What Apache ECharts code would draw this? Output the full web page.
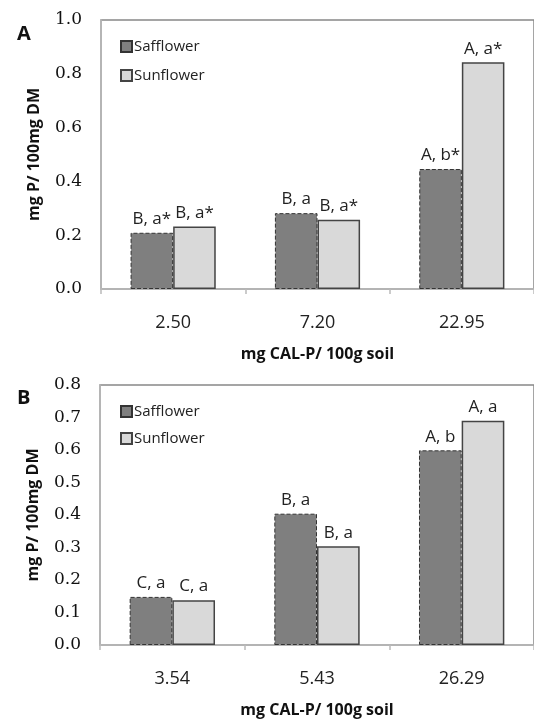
<!DOCTYPE html>
<html>
<head>
<meta charset="utf-8">
<script src="https://cdn.jsdelivr.net/npm/echarts@6/dist/echarts.min.js"></script>
<style>
  html, body { margin: 0; padding: 0; background: #fff; }
  #chart { width: 534px; height: 719px; }
</style>
</head>
<body>
<div id="chart"></div>
<script>
// Panel A
const catsA = ['2.50', '7.20', '22.95']
const safflowerA = [0.209, 0.282, 0.446]
const sunflowerA = [0.232, 0.257, 0.843]
const lettersSafA = ['B, a*', 'B, a', 'A, b*']
const lettersSunA = ['B, a*', 'B, a*', 'A, a*']

// Panel B
const catsB = ['3.54', '5.43', '26.29']
const safflowerB = [0.148, 0.404, 0.599]
const sunflowerB = [0.138, 0.304, 0.690]
const lettersSafB = ['C, a', 'B, a', 'A, b']
const lettersSunB = ['C, a', 'B, a', 'A, a']

const sans = '"Open Sans", "DejaVu Sans", sans-serif'
const serif = '"DejaVu Serif", serif'

const safStyle = { color: '#7f7f7f', borderColor: '#333', borderType: 'dashed', borderWidth: 1 }
const sunStyle = { color: '#d9d9d9', borderColor: '#444', borderWidth: 1.5 }

const barLabel = letters => ({
  show: true,
  position: 'top',
  distance: 5,
  fontFamily: sans,
  fontSize: 17,
  color: '#222',
  formatter: p => letters[p.dataIndex]
})

const xAxisFor = (cats, idx) => ({
  type: 'category',
  gridIndex: idx,
  data: cats,
  name: 'mg CAL-P/ 100g soil',
  nameLocation: 'middle',
  nameGap: 57,
  nameTextStyle: { fontFamily: sans, fontSize: 16, fontWeight: 'bold', color: '#111' },
  axisLine: { lineStyle: { color: '#bbb', width: 1.5 } },
  axisTick: { show: true, length: 5, lineStyle: { color: '#bbb', width: 1.5 } },
  axisLabel: { margin: 25, fontFamily: sans, fontSize: 18, color: '#222' }
})

const yAxisFor = (max, step, idx) => ({
  type: 'value',
  gridIndex: idx,
  min: 0,
  max: max,
  interval: step,
  name: 'mg P/ 100mg DM',
  nameLocation: 'middle',
  nameGap: 59,
  nameTextStyle: { fontFamily: sans, fontSize: 16, fontWeight: 'bold', color: '#111' },
  splitLine: { show: false },
  axisLine: { show: true, lineStyle: { color: '#bbb', width: 1.5 } },
  axisTick: { show: false },
  axisLabel: { margin: 19, fontFamily: serif, fontSize: 17, color: '#111', formatter: v => v.toFixed(1) }
})

const legendFor = (top, gap) => ({
  orient: 'vertical',
  left: 115,
  top: top,
  itemWidth: 11,
  itemHeight: 11,
  itemGap: gap,
  icon: 'rect',
  textStyle: { fontFamily: sans, fontSize: 15, color: '#222', padding: [0, 0, 0, -3] },
  data: ['Safflower', 'Sunflower']
})

const chart = echarts.init(document.getElementById('chart'))
chart.setOption({
  animation: false,
  title: [
    { text: 'A', left: 12, top: 19, textStyle: { fontFamily: sans, fontSize: 20, fontWeight: 'bold', color: '#111' } },
    { text: 'B', left: 12, top: 383, textStyle: { fontFamily: sans, fontSize: 20, fontWeight: 'bold', color: '#111' } }
  ],
  legend: [legendFor(34, 14), legendFor(399, 12)],
  grid: [
    { left: 101, top: 20, width: 435, height: 269, show: true, borderColor: '#888', borderWidth: 1.5 },
    { left: 100, top: 385, width: 435, height: 266, show: true, borderColor: '#888', borderWidth: 1.5 }
  ],
  xAxis: [xAxisFor(catsA, 0), xAxisFor(catsB, 1)],
  yAxis: [yAxisFor(1.0, 0.2, 0), yAxisFor(0.8, 0.1, 1)],
  series: [
    { name: 'Safflower', type: 'bar', xAxisIndex: 0, yAxisIndex: 0, data: safflowerA,
      barGap: '0%', barCategoryGap: '41%', itemStyle: safStyle, label: barLabel(lettersSafA) },
    { name: 'Sunflower', type: 'bar', xAxisIndex: 0, yAxisIndex: 0, data: sunflowerA,
      barGap: '0%', barCategoryGap: '41%', itemStyle: sunStyle, label: barLabel(lettersSunA) },
    { name: 'Safflower', type: 'bar', xAxisIndex: 1, yAxisIndex: 1, data: safflowerB,
      barGap: '0%', barCategoryGap: '41%', itemStyle: safStyle, label: barLabel(lettersSafB) },
    { name: 'Sunflower', type: 'bar', xAxisIndex: 1, yAxisIndex: 1, data: sunflowerB,
      barGap: '0%', barCategoryGap: '41%', itemStyle: sunStyle, label: barLabel(lettersSunB) }
  ]
})
</script>
</body>
</html>
